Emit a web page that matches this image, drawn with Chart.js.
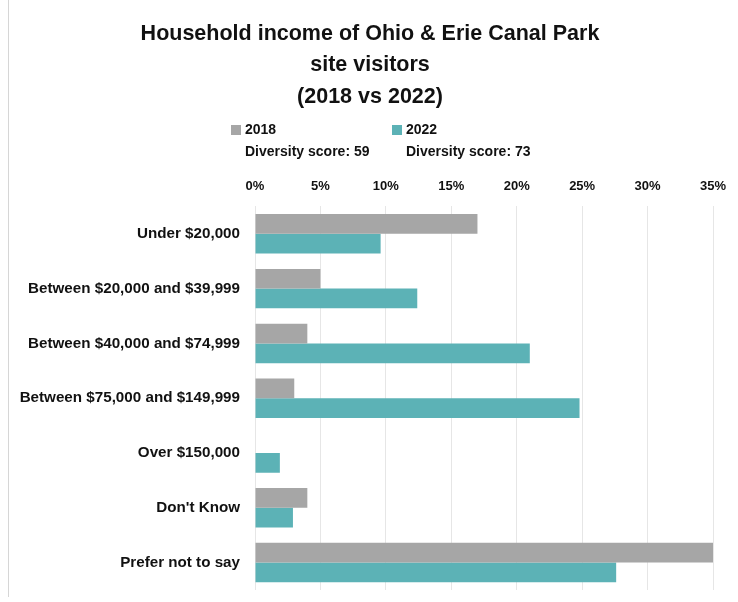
<!DOCTYPE html>
<html>
<head>
<meta charset="utf-8">
<script src="https://cdn.jsdelivr.net/npm/chart.js@4.4.1/dist/chart.umd.min.js"></script>
<style>
  html, body { margin: 0; padding: 0; background: #fff; }
  #wrap { position: relative; width: 738px; height: 602px; }
  #edge { position: absolute; left: 8px; top: 0; width: 1px; height: 597px; background: #d6d6d6; }
</style>
</head>
<body>
<div id="wrap">
  <div id="edge"></div>
  <canvas id="chart" width="738" height="602"></canvas>
</div>
<script>
const categories = [
    'Under $20,000',
    'Between $20,000 and $39,999',
    'Between $40,000 and $74,999',
    'Between $75,000 and $149,999',
    'Over $150,000',
    "Don't Know",
    'Prefer not to say'
];
const years = ['2018', '2022'];
const values2018 = [17, 5, 4, 3, 0, 4, 35];
const values2022 = [9.6, 12.4, 21, 24.8, 1.9, 2.9, 27.6];
const diversityScores = [59, 73];

const FONT = "'Liberation Sans', Arial, sans-serif";
const GREY = '#a6a6a6';
const TEAL = '#5cb2b6';

// legend with a second line for the diversity score
const scoreLegend = {
    id: 'scoreLegend',
    afterDraw(chart) {
        const ctx = chart.ctx;
        const xs = [231, 392];
        ctx.save();
        chart.data.datasets.forEach((ds, i) => {
            const x = xs[i];
            ctx.fillStyle = ds.backgroundColor;
            ctx.fillRect(x, 125, 10, 10);
            ctx.fillStyle = '#111';
            ctx.font = 'bold 14px ' + FONT;
            ctx.textBaseline = 'middle';
            ctx.textAlign = 'left';
            ctx.fillText(ds.label, x + 14, 130);
            ctx.fillText('Diversity score: ' + diversityScores[i], x + 14, 152);
        });
        ctx.restore();
    }
};

new Chart(document.getElementById('chart'), {
    type: 'bar',
    data: {
        labels: categories,
        datasets: [
            { label: years[0], data: values2018, backgroundColor: GREY },
            { label: years[1], data: values2022, backgroundColor: TEAL }
        ]
    },
    options: {
        indexAxis: 'y',
        responsive: false,
        animation: false,
        layout: { padding: { left: 10, right: 8, bottom: 12, top: 0 } },
        datasets: { bar: { barPercentage: 1, categoryPercentage: 0.72 } },
        plugins: {
            legend: { display: false },
            tooltip: { enabled: false },
            title: {
                display: true,
                text: ['Household income of Ohio & Erie Canal Park', 'site visitors', '(2018 vs 2022)'],
                color: '#111',
                font: { family: FONT, size: 21.5, weight: 'bold', lineHeight: 1.47 },
                padding: { top: 18, bottom: 54 }
            }
        },
        scales: {
            x: {
                position: 'top',
                min: 0,
                max: 35,
                afterFit: scale => { scale.paddingRight = 25; },
                ticks: {
                    stepSize: 5,
                    padding: 12,
                    color: '#111',
                    font: { family: FONT, size: 13, weight: 'bold' },
                    callback: v => v + '%'
                },
                grid: { color: '#e6e6e6', drawTicks: false },
                border: { display: false }
            },
            y: {
                afterFit: scale => {
                    scale.width = 245;
                    scale.paddingTop = 0;
                    scale.paddingBottom = 0;
                },
                ticks: {
                    padding: 15,
                    color: '#111',
                    font: { family: FONT, size: 15.2, weight: 'bold' }
                },
                grid: { display: false, drawTicks: false },
                border: { display: false }
            }
        }
    },
    plugins: [scoreLegend]
});
</script>
</body>
</html>
